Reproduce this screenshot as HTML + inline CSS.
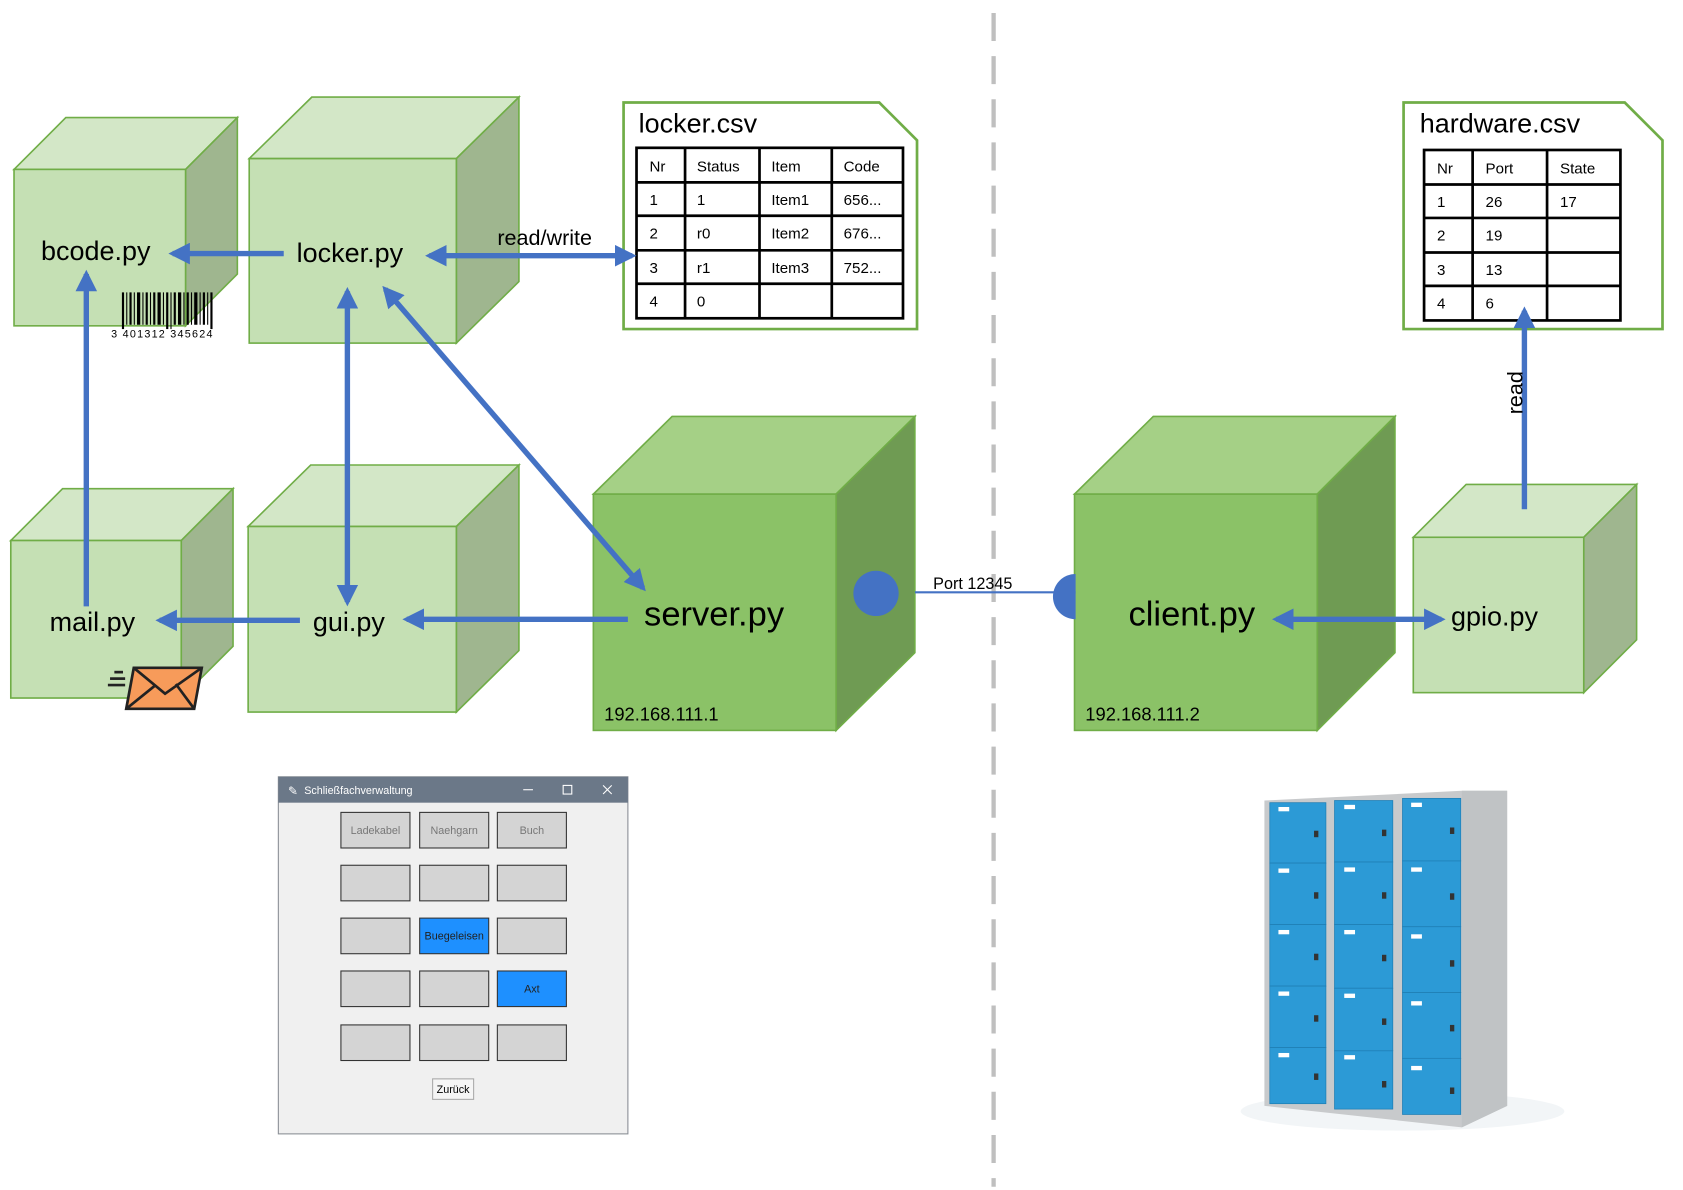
<!DOCTYPE html>
<html><head><meta charset="utf-8">
<style>
html,body{margin:0;padding:0;background:#fff;}
svg{display:block;}
text{font-family:"Liberation Sans","DejaVu Sans",sans-serif;}
</style></head>
<body>
<svg width="1683" height="1190" viewBox="0 0 1560 1103" xmlns="http://www.w3.org/2000/svg">
<defs>
<marker id="ah" viewBox="0 0 10 10" refX="8" refY="5" markerWidth="4" markerHeight="4" orient="auto-start-reverse">
<path d="M0,0 L10,5 L0,10 z" fill="#4472c4"/>
</marker>
<clipPath id="cl"><rect x="970" y="520" width="27" height="70"/></clipPath>
</defs>

<line x1="921" y1="12" x2="921" y2="1100" stroke="#bfbfbf" stroke-width="4" stroke-dasharray="26,14"/>

<g stroke="#70ad47" stroke-width="1.5">
<polygon points="13,157 61,109 220,109 172,157" fill="#d3e7c7"/>
<polygon points="172,157 220,109 220,254 172,302" fill="#9fb68f"/>
<rect x="13" y="157" width="159" height="145" fill="#c5e0b4"/>
<polygon points="231,147 289,90 481,90 423,147" fill="#d3e7c7"/>
<polygon points="423,147 481,90 481,261 423,318" fill="#9fb68f"/>
<rect x="231" y="147" width="192" height="171" fill="#c5e0b4"/>
<polygon points="10,501 58,453 216,453 168,501" fill="#d3e7c7"/>
<polygon points="168,501 216,453 216,599 168,647" fill="#9fb68f"/>
<rect x="10" y="501" width="158" height="146" fill="#c5e0b4"/>
<polygon points="230,488 288,431 481,431 423,488" fill="#d3e7c7"/>
<polygon points="423,488 481,431 481,603 423,660" fill="#9fb68f"/>
<rect x="230" y="488" width="193" height="172" fill="#c5e0b4"/>
<polygon points="1310,498 1359,449 1517,449 1468,498" fill="#d3e7c7"/>
<polygon points="1468,498 1517,449 1517,593 1468,642" fill="#9fb68f"/>
<rect x="1310" y="498" width="158" height="144" fill="#c5e0b4"/>
<polygon points="550,458 623,386 848,386 775,458" fill="#a5d086"/>
<polygon points="775,458 848,386 848,605 775,677" fill="#6f9b53"/>
<rect x="550" y="458" width="225" height="219" fill="#8bc267"/>
<polygon points="996,458 1069,386 1293,386 1221,458" fill="#a5d086"/>
<polygon points="1221,458 1293,386 1293,605 1221,677" fill="#6f9b53"/>
<rect x="996" y="458" width="225" height="219" fill="#8bc267"/>
</g>

<g fill="#000">
<rect x="113" y="271" width="2" height="34"/><rect x="117" y="271" width="1" height="30"/><rect x="120" y="271" width="2" height="30"/><rect x="124" y="271" width="1" height="30"/><rect x="127" y="271" width="3" height="30"/><rect x="132" y="271" width="1" height="30"/><rect x="135" y="271" width="2" height="30"/><rect x="139" y="271" width="1" height="30"/><rect x="142" y="271" width="2" height="30"/><rect x="146" y="271" width="3" height="30"/><rect x="151" y="271" width="1" height="30"/><rect x="154" y="271" width="2" height="34"/><rect x="158" y="271" width="1" height="34"/><rect x="161" y="271" width="2" height="30"/><rect x="165" y="271" width="3" height="30"/><rect x="170" y="271" width="1" height="30"/><rect x="173" y="271" width="2" height="30"/><rect x="177" y="271" width="1" height="30"/><rect x="180" y="271" width="3" height="30"/><rect x="185" y="271" width="1" height="30"/><rect x="188" y="271" width="2" height="30"/><rect x="192" y="271" width="1" height="30"/><rect x="195" y="271" width="2" height="34"/>
</g>
<text x="103" y="313" font-size="10" fill="#000" textLength="94">3 401312 345624</text>

<g stroke="#222" stroke-width="2.5" fill="none">
<line x1="106" y1="623" x2="114" y2="623"/><line x1="102" y1="629" x2="116" y2="629"/><line x1="100" y1="635" x2="116" y2="635"/>
<polygon points="124,619 187,619 180,657 117,657" fill="#f79b5a"/>
<polyline points="124,619 153,643 187,619"/>
<line x1="117" y1="657" x2="143" y2="636"/><line x1="180" y1="657" x2="163" y2="634"/>
</g>

<polygon points="578,95 815,95 850,130 850,305 578,305" fill="#fff" stroke="#70ad47" stroke-width="2.5"/>
<text x="592" y="123" font-size="25" fill="#000">locker.csv</text>
<g stroke="#000" stroke-width="2.5" fill="none">
<rect x="590" y="137" width="247" height="158"/>
<line x1="635" y1="137" x2="635" y2="295"/><line x1="704" y1="137" x2="704" y2="295"/><line x1="771" y1="137" x2="771" y2="295"/>
<line x1="590" y1="169" x2="837" y2="169"/><line x1="590" y1="200" x2="837" y2="200"/><line x1="590" y1="232" x2="837" y2="232"/><line x1="590" y1="263" x2="837" y2="263"/>
</g>
<g font-size="14" fill="#000">
<text x="602" y="159">Nr</text><text x="646" y="159">Status</text><text x="715" y="159">Item</text><text x="782" y="159">Code</text>
<text x="602" y="190">1</text><text x="646" y="190">1</text><text x="715" y="190">Item1</text><text x="782" y="190">656...</text>
<text x="602" y="221">2</text><text x="646" y="221">r0</text><text x="715" y="221">Item2</text><text x="782" y="221">676...</text>
<text x="602" y="253">3</text><text x="646" y="253">r1</text><text x="715" y="253">Item3</text><text x="782" y="253">752...</text>
<text x="602" y="284">4</text><text x="646" y="284">0</text>
</g>

<polygon points="1301,95 1506,95 1541,130 1541,305 1301,305" fill="#fff" stroke="#70ad47" stroke-width="2.5"/>
<text x="1316" y="123" font-size="25" fill="#000">hardware.csv</text>
<g stroke="#000" stroke-width="2.5" fill="none">
<rect x="1320" y="139" width="182" height="158"/>
<line x1="1365" y1="139" x2="1365" y2="297"/><line x1="1434" y1="139" x2="1434" y2="297"/>
<line x1="1320" y1="171" x2="1502" y2="171"/><line x1="1320" y1="202" x2="1502" y2="202"/><line x1="1320" y1="234" x2="1502" y2="234"/><line x1="1320" y1="265" x2="1502" y2="265"/>
</g>
<g font-size="14" fill="#000">
<text x="1332" y="161">Nr</text><text x="1377" y="161">Port</text><text x="1446" y="161">State</text>
<text x="1332" y="192">1</text><text x="1377" y="192">26</text><text x="1446" y="192">17</text>
<text x="1332" y="223">2</text><text x="1377" y="223">19</text>
<text x="1332" y="255">3</text><text x="1377" y="255">13</text>
<text x="1332" y="286">4</text><text x="1377" y="286">6</text>
</g>

<line x1="848" y1="549" x2="997" y2="549" stroke="#4472c4" stroke-width="2"/>
<circle cx="812" cy="550" r="21" fill="#4472c4"/>
<circle cx="997" cy="553" r="21" fill="#4472c4" clip-path="url(#cl)"/>
<text x="865" y="546" font-size="15" fill="#000">Port 12345</text>

<g stroke="#4472c4" stroke-width="5" fill="none">
<line x1="263" y1="235" x2="160" y2="235" marker-end="url(#ah)"/>
<line x1="398" y1="237" x2="586" y2="237" marker-start="url(#ah)" marker-end="url(#ah)"/>
<line x1="80" y1="562" x2="80" y2="254" marker-end="url(#ah)"/>
<line x1="322" y1="270" x2="322" y2="558" marker-start="url(#ah)" marker-end="url(#ah)"/>
<line x1="357" y1="268" x2="596" y2="545" marker-start="url(#ah)" marker-end="url(#ah)"/>
<line x1="582" y1="574" x2="377" y2="574" marker-end="url(#ah)"/>
<line x1="278" y1="575" x2="148" y2="575" marker-end="url(#ah)"/>
<line x1="1183" y1="574" x2="1336" y2="574" marker-start="url(#ah)" marker-end="url(#ah)"/>
<line x1="1413" y1="472" x2="1413" y2="288" marker-end="url(#ah)"/>
</g>
<text x="461" y="227" font-size="20" fill="#000">read/write</text>
<text transform="translate(1411,384) rotate(-90)" font-size="20" fill="#000">read</text>

<g font-size="25" fill="#000">
<text x="38" y="241">bcode.py</text>
<text x="275" y="243">locker.py</text>
<text x="46" y="585">mail.py</text>
<text x="290" y="585">gui.py</text>
<text x="1345" y="580">gpio.py</text>
</g>
<text x="597" y="580" font-size="32" fill="#000">server.py</text>
<text x="1046" y="580" font-size="32" fill="#000">client.py</text>
<text x="560" y="668" font-size="17" fill="#000">192.168.111.1</text>
<text x="1006" y="668" font-size="17" fill="#000">192.168.111.2</text>

<rect x="258" y="720" width="324" height="331" fill="#f0f0f0" stroke="#8a8f96" stroke-width="1"/>
<rect x="258" y="720" width="324" height="24" fill="#6b7888"/>
<text x="282" y="736" font-size="10" fill="#fff">Schließfachverwaltung</text>
<text x="267" y="737" font-size="11" fill="#fff">✎</text>
<line x1="485" y1="732" x2="494" y2="732" stroke="#fff" stroke-width="1"/>
<rect x="522" y="728" width="8" height="8" fill="none" stroke="#fff" stroke-width="1"/>
<path d="M559,728 L567,736 M567,728 L559,736" stroke="#fff" stroke-width="1"/>
<g stroke="#333" stroke-width="1">
<g fill="#d4d4d4">
<rect x="316" y="753" width="64" height="33"/><rect x="389" y="753" width="64" height="33"/><rect x="461" y="753" width="64" height="33"/>
<rect x="316" y="802" width="64" height="33"/><rect x="389" y="802" width="64" height="33"/><rect x="461" y="802" width="64" height="33"/>
<rect x="316" y="851" width="64" height="33"/><rect x="461" y="851" width="64" height="33"/>
<rect x="316" y="900" width="64" height="33"/><rect x="389" y="900" width="64" height="33"/>
<rect x="316" y="950" width="64" height="33"/><rect x="389" y="950" width="64" height="33"/><rect x="461" y="950" width="64" height="33"/>
</g>
<rect x="389" y="851" width="64" height="33" fill="#1e90ff"/>
<rect x="461" y="900" width="64" height="33" fill="#1e90ff"/>
<rect x="401" y="1000" width="38" height="19" fill="#f5f5f5" stroke="#aaa"/>
</g>
<g font-size="10" text-anchor="middle">
<text x="348" y="773" fill="#777">Ladekabel</text><text x="421" y="773" fill="#777">Naehgarn</text><text x="493" y="773" fill="#777">Buch</text>
<text x="421" y="871" fill="#222">Buegeleisen</text><text x="493" y="920" fill="#222">Axt</text>
<text x="420" y="1013" fill="#000">Zurück</text>
</g>

<ellipse cx="1300" cy="1030" rx="150" ry="18" fill="#f2f5f7"/>
<polygon points="1172,742 1355,733 1397,733 1397,1025 1355,1045 1172,1025" fill="#c8cacc"/>
<polygon points="1355,733 1397,733 1397,1025 1355,1045" fill="#c0c3c5"/>
<g fill="#2c9ad6" stroke="#1f7fb5" stroke-width="0.7">
<rect x="1177" y="744" width="52" height="56"/><rect x="1177" y="800" width="52" height="57"/><rect x="1177" y="857" width="52" height="57"/><rect x="1177" y="914" width="52" height="57"/><rect x="1177" y="971" width="52" height="52"/>
<rect x="1237" y="742" width="54" height="57"/><rect x="1237" y="799" width="54" height="58"/><rect x="1237" y="857" width="54" height="59"/><rect x="1237" y="916" width="54" height="58"/><rect x="1237" y="974" width="54" height="54"/>
<rect x="1300" y="740" width="54" height="58"/><rect x="1300" y="798" width="54" height="61"/><rect x="1300" y="859" width="54" height="61"/><rect x="1300" y="920" width="54" height="61"/><rect x="1300" y="981" width="54" height="52"/>
</g>
<g fill="#fff">
<rect x="1185" y="748" width="10" height="4"/><rect x="1185" y="805" width="10" height="4"/><rect x="1185" y="862" width="10" height="4"/><rect x="1185" y="919" width="10" height="4"/><rect x="1185" y="976" width="10" height="4"/>
<rect x="1246" y="746" width="10" height="4"/><rect x="1246" y="804" width="10" height="4"/><rect x="1246" y="862" width="10" height="4"/><rect x="1246" y="921" width="10" height="4"/><rect x="1246" y="978" width="10" height="4"/>
<rect x="1308" y="744" width="10" height="4"/><rect x="1308" y="804" width="10" height="4"/><rect x="1308" y="866" width="10" height="4"/><rect x="1308" y="928" width="10" height="4"/><rect x="1308" y="988" width="10" height="4"/>
</g>
<g fill="#333">
<rect x="1218" y="770" width="4" height="6"/><rect x="1218" y="827" width="4" height="6"/><rect x="1218" y="884" width="4" height="6"/><rect x="1218" y="941" width="4" height="6"/><rect x="1218" y="995" width="4" height="6"/>
<rect x="1281" y="769" width="4" height="6"/><rect x="1281" y="827" width="4" height="6"/><rect x="1281" y="885" width="4" height="6"/><rect x="1281" y="944" width="4" height="6"/><rect x="1281" y="1002" width="4" height="6"/>
<rect x="1344" y="767" width="4" height="6"/><rect x="1344" y="828" width="4" height="6"/><rect x="1344" y="890" width="4" height="6"/><rect x="1344" y="950" width="4" height="6"/><rect x="1344" y="1008" width="4" height="6"/>
</g>
</svg>
</body></html>
